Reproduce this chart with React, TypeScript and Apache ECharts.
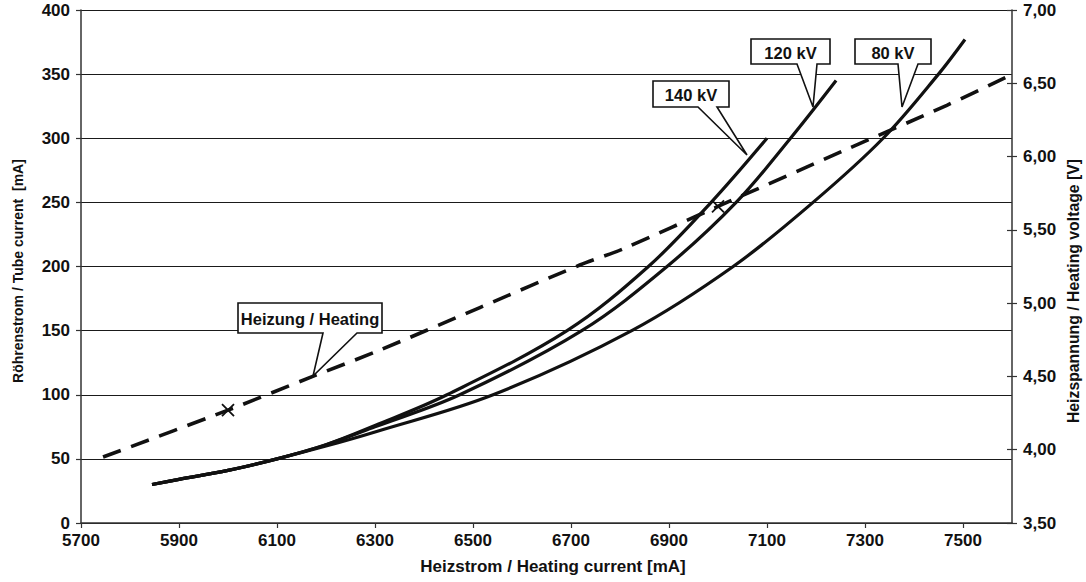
import React, { useEffect, useRef } from 'react';
import * as echarts from 'echarts';

// ---- data ----
const xTickValues = [5700, 5900, 6100, 6300, 6500, 6700, 6900, 7100, 7300, 7500];

const current140 = [5845, 5900, 6000, 6100, 6200, 6300, 6447, 6692, 6858, 6986, 7100];
const tube140 = [30, 34, 41, 50, 61, 76, 100, 150, 200, 250, 300];

const current120 = [5845, 5900, 6000, 6100, 6200, 6300, 6473, 6722, 6896, 7037, 7148, 7241];
const tube120 = [30, 34, 41, 50, 61, 75, 100, 150, 200, 250, 300, 345];

const current80 = [5845, 5900, 6000, 6100, 6200, 6300, 6541, 6824, 7031, 7194, 7337, 7450, 7504];
const tube80 = [30, 34, 41, 50, 60, 71, 100, 150, 200, 250, 300, 350, 377];

const heatCurrent = [5745, 6000, 6173, 6310, 6514, 6718, 6806, 7000, 7263, 7467, 7600];
const heatVoltage = [3.95, 4.27, 4.5, 4.68, 4.97, 5.26, 5.37, 5.66, 6.05, 6.35, 6.56];
const heatMarkedCurrents = [6000, 7000];

const FONT = '"Liberation Sans", Arial, Helvetica, sans-serif';
const INK = '#111';

const pairs = (xs: number[], ys: number[]) => xs.map((x, i) => [x, ys[i]]);

const crossSymbol = 'path://M0,0L10,10M10,0L0,10';

function callout(
  box: [number, number, number, number],
  base: [number, number],
  tip: [number, number],
  text: string
) {
  const [x1, y1, x2, y2] = box;
  return [
    {
      type: 'polygon',
      shape: {
        points: [
          [x1, y1],
          [x2, y1],
          [x2, y2],
          [base[1], y2],
          tip,
          [base[0], y2],
          [x1, y2],
        ],
      },
      style: { fill: '#fff', stroke: INK, lineWidth: 1.6 },
      z: 100,
    },
    {
      type: 'text',
      x: (x1 + x2) / 2,
      y: (y1 + y2) / 2 + 1,
      style: {
        text,
        fill: INK,
        font: `bold 16.5px ${FONT}`,
        textAlign: 'center',
        textVerticalAlign: 'middle',
      },
      z: 101,
    },
  ];
}

export default function App() {
  const ref = useRef<HTMLDivElement>(null);

  useEffect(() => {
    const chart = echarts.init(ref.current!, null, { renderer: 'svg' });

    const heatingData = heatCurrent.map((x, i) => {
      const marked = heatMarkedCurrents.includes(x);
      return marked
        ? {
            value: [x, heatVoltage[i]],
            symbol: crossSymbol,
            symbolSize: 12,
            itemStyle: { color: 'none', borderColor: INK, borderWidth: 1.8 },
          }
        : { value: [x, heatVoltage[i]], symbol: 'none' };
    });

    const axisLabelStyle = {
      color: INK,
      fontFamily: FONT,
      fontWeight: 'bold' as const,
      fontSize: 17,
    };

    const curveStyle = { color: INK, width: 3.2 };

    const option: any = {
      animation: false,
      grid: { left: 81, right: 74, top: 10, bottom: 59 },
      xAxis: {
        type: 'value',
        min: 5700,
        max: 7600,
        axisLine: { show: true, lineStyle: { color: '#333', width: 1.5 } },
        axisTick: {
          show: true,
          length: 5,
          customValues: xTickValues,
          lineStyle: { color: '#333', width: 1.2 },
        },
        axisLabel: {
          ...axisLabelStyle,
          margin: 9,
          customValues: xTickValues,
          formatter: (v: number) => String(v),
        },
        splitLine: { show: false },
      },
      yAxis: [
        {
          type: 'value',
          min: 0,
          max: 400,
          interval: 50,
          position: 'left',
          axisLine: { show: true, lineStyle: { color: '#333', width: 1.5 } },
          axisTick: { show: true, length: 5, lineStyle: { color: '#333', width: 1.2 } },
          axisLabel: { ...axisLabelStyle, margin: 11 },
          splitLine: { show: true, lineStyle: { color: '#1a1a1a', width: 1.1 } },
        },
        {
          type: 'value',
          min: 3.5,
          max: 7,
          interval: 0.5,
          position: 'right',
          axisLine: { show: true, lineStyle: { color: '#333', width: 1.5 } },
          axisTick: { show: true, length: 5, lineStyle: { color: '#333', width: 1.2 } },
          axisLabel: {
            ...axisLabelStyle,
            margin: 11,
            formatter: (v: number) => v.toFixed(2).replace('.', ','),
          },
          splitLine: { show: false },
        },
        {
          type: 'value',
          min: 3.5,
          max: 7,
          interval: 0.5,
          position: 'right',
          axisLine: { show: false },
          axisTick: { show: true, inside: true, length: 5, lineStyle: { color: '#333', width: 1.2 } },
          axisLabel: { show: false },
          splitLine: { show: false },
        },
      ],
      series: [
        {
          name: '140 kV',
          type: 'line',
          yAxisIndex: 0,
          data: pairs(current140, tube140),
          smooth: 0.35,
          showSymbol: false,
          lineStyle: curveStyle,
        },
        {
          name: '120 kV',
          type: 'line',
          yAxisIndex: 0,
          data: pairs(current120, tube120),
          smooth: 0.35,
          showSymbol: false,
          lineStyle: curveStyle,
        },
        {
          name: '80 kV',
          type: 'line',
          yAxisIndex: 0,
          data: pairs(current80, tube80),
          smooth: 0.35,
          showSymbol: false,
          lineStyle: curveStyle,
        },
        {
          name: 'Heizung / Heating',
          type: 'line',
          yAxisIndex: 1,
          data: heatingData,
          smooth: 0.3,
          showSymbol: true,
          symbol: 'none',
          lineStyle: { color: INK, width: 3.6, type: [19, 11] },
          z: 3,
        },
      ],
      graphic: [
        ...callout([653, 81, 729, 107], [698, 717], [747, 155], '140 kV'),
        ...callout([751, 39, 830, 64], [797, 817], [813, 107], '120 kV'),
        ...callout([855, 39, 931, 64], [898, 918], [902, 107], '80 kV'),
        ...callout([238, 303, 382, 333], [323, 357], [313, 376], 'Heizung / Heating'),
        {
          type: 'text',
          x: 553,
          y: 566,
          style: {
            text: 'Heizstrom / Heating current [mA]',
            fill: INK,
            font: `bold 17px ${FONT}`,
            textAlign: 'center',
            textVerticalAlign: 'middle',
          },
        },
        {
          type: 'text',
          x: 18,
          y: 271,
          rotation: Math.PI / 2,
          style: {
            text: 'Röhrenstrom / Tube current  [mA]',
            fill: INK,
            font: `bold 14px ${FONT}`,
            textAlign: 'center',
            textVerticalAlign: 'middle',
          },
        },
        {
          type: 'text',
          x: 1073,
          y: 291,
          rotation: Math.PI / 2,
          style: {
            text: 'Heizspannung / Heating voltage [V]',
            fill: INK,
            font: `bold 15.8px ${FONT}`,
            textAlign: 'center',
            textVerticalAlign: 'middle',
          },
        },
      ],
    };

    chart.setOption(option);
    return () => chart.dispose();
  }, []);

  return (
    <div
      ref={ref}
      style={{ position: 'fixed', left: 0, top: 0, width: 1086, height: 582, background: '#fff' }}
    />
  );
}
